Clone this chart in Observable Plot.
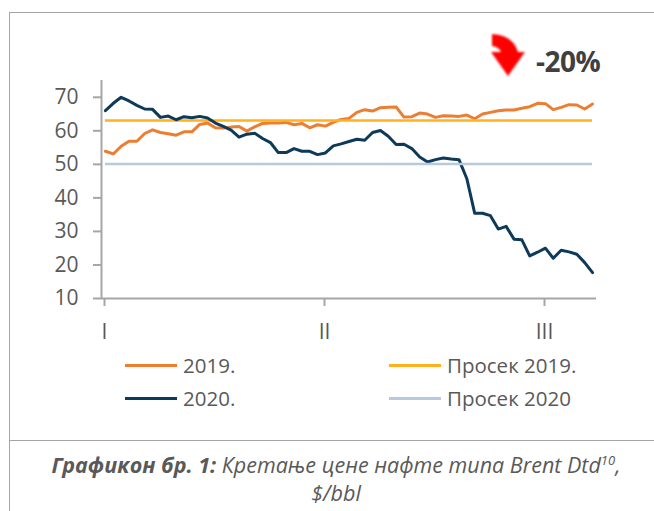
<!DOCTYPE html>
<html>
<head>
<meta charset="utf-8">
<script src="https://cdn.jsdelivr.net/npm/d3@7"></script>
<script src="https://cdn.jsdelivr.net/npm/@observablehq/plot@0.6"></script>
<style>
  html, body { margin: 0; padding: 0; background: #fff; }
  #wrap { position: relative; width: 654px; height: 511px; overflow: hidden; background: #fff; font-family: "Open Sans", sans-serif; }
  #chart { position: absolute; left: 0; top: 0; }
  .border-top { position: absolute; left: 9px; top: 12px; width: 660px; height: 0; border-top: 1px solid #a6a6a6; }
  .border-left { position: absolute; left: 9px; top: 12px; width: 0; height: 520px; border-left: 1px solid #a6a6a6; }
  .border-sep { position: absolute; left: 9px; top: 440px; width: 660px; height: 0; border-top: 1px solid #a6a6a6; }
  .leg { position: absolute; display: flex; align-items: center; font-size: 20.5px; color: #595959; white-space: nowrap; }
  .leg .sw { width: 52px; height: 3px; margin-right: 6px; }
  #badge { position: absolute; left: 536px; top: 42px; font-size: 28px; font-weight: 700; color: #404040; letter-spacing: -0.5px; }
  #caption { position: absolute; left: 9px; width: 654px; top: 451px; text-align: center; font-size: 21.5px; line-height: 28px; color: #595959; font-style: italic; }
  #caption sup { font-size: 13px; vertical-align: 8px; line-height: 0; }
</style>
</head>
<body>
<div id="wrap">
  <div class="border-top"></div>
  <div class="border-left"></div>
  <div class="border-sep"></div>
  <div id="chart"></div>
  <svg id="arrow" width="654" height="100" style="position:absolute;left:0;top:0">
    <defs><filter id="soft"><feGaussianBlur stdDeviation="0.8"/></filter></defs>
    <path d="M492,34 Q513,35 518,52 L525,52 L508,76 L491,52 L501,52 Q499,47 492,46 Z" fill="#ff0000" filter="url(#soft)"/>
  </svg>
  <div id="badge">-20%</div>
  <div id="legend"></div>
  <div id="caption"><b>Графикон бр. 1:</b> Кретање цене нафте типа Brent Dtd<sup>10</sup>,<br>$/bbl</div>
</div>
<script>
// Daily Brent Dtd prices, Q1 (trading days), $/bbl
const prices2019 = [53.9, 53.1, 55.4, 56.9, 56.9, 59.2, 60.3, 59.5, 59.1, 58.7,
  59.7, 59.7, 61.9, 62.3, 60.9, 60.8, 61.1, 61.3, 59.9, 61.2,
  62.2, 62.3, 62.3, 62.5, 61.8, 62.2, 60.9, 61.8, 61.4, 62.5,
  63.4, 63.7, 65.5, 66.3, 65.9, 66.9, 67.0, 67.1, 64.1, 64.2,
  65.3, 65.0, 64.0, 64.5, 64.4, 64.3, 64.7, 63.6, 65.0, 65.5,
  66.0, 66.2, 66.2, 66.7, 67.2, 68.2, 68.1, 66.3, 67.0, 67.8,
  67.7, 66.5, 68.0];
const prices2020 = [66.0, 68.2, 70.0, 68.9, 67.6, 66.5, 66.4, 64.0, 64.4, 63.3,
  64.2, 63.9, 64.3, 63.8, 62.3, 61.3, 60.2, 58.1, 59.0, 59.3,
  57.7, 56.5, 53.5, 53.5, 54.7, 53.9, 53.9, 52.9, 53.4, 55.5,
  56.1, 56.8, 57.5, 57.2, 59.5, 60.1, 58.4, 55.9, 56.0, 54.7,
  52.2, 50.7, 51.4, 51.9, 51.6, 51.4, 45.7, 35.4, 35.4, 34.7,
  30.7, 31.5, 27.7, 27.5, 22.7, 23.8, 25.0, 22.0, 24.4, 23.9,
  23.2, 20.7, 17.7];
const average2019 = 63.1;
const average2020 = 50.1;
const monthTicks = [0, 28, 56];
const monthLabels = ["I", "II", "III"];
const yTicks = [10, 20, 30, 40, 50, 60, 70];
const seriesNames = ["2019.", "Просек 2019.", "2020.", "Просек 2020"];
const seriesColors = ["#ED7D31", "#FFB21E", "#0E3A5A", "#B7C9DD"];

const n = prices2019.length;
const rows2019 = prices2019.map((v, i) => ({x: i + 0.5, y: v}));
const rows2020 = prices2020.map((v, i) => ({x: i + 0.5, y: v}));
const axisColor = "#A6A6A6";

const plot = Plot.plot({
  width: 654,
  height: 360,
  marginLeft: 101,
  marginRight: 58,
  marginTop: 80,
  marginBottom: 62,
  style: {fontFamily: "'Open Sans', sans-serif", fontSize: "21px", color: "#595959", background: "transparent", overflow: "visible"},
  x: {domain: [0, n], axis: null},
  y: {domain: [10, 75], axis: null},
  marks: [
    Plot.ruleY([10], {stroke: axisColor, strokeWidth: 2}),
    Plot.ruleX([0], {stroke: axisColor, strokeWidth: 2}),
    Plot.axisY(yTicks, {label: null, tickSize: 8, tickPadding: 15, stroke: axisColor, strokeWidth: 2, fill: "#595959", fontSize: 21}),
    Plot.axisX(monthTicks, {label: null, tickSize: 8, tickPadding: 18, stroke: axisColor, strokeWidth: 2, fill: "#595959", fontSize: 21, dx: 3,
      tickFormat: (d) => monthLabels[monthTicks.indexOf(d)]}),
    Plot.line(rows2019, {x: "x", y: "y", stroke: seriesColors[0], strokeWidth: 3}),
    Plot.ruleY([average2019], {x1: 0.5, x2: n - 0.5, stroke: seriesColors[1], strokeWidth: 2.5}),
    Plot.line(rows2020, {x: "x", y: "y", stroke: seriesColors[2], strokeWidth: 3}),
    Plot.ruleY([average2020], {x1: 0.5, x2: n - 0.5, stroke: seriesColors[3], strokeWidth: 2.5})
  ]
});
document.getElementById("chart").appendChild(plot);

// legend
const legendPos = [[125, 365], [389, 365], [125, 398], [389, 398]];
const legend = document.getElementById("legend");
seriesNames.forEach((name, i) => {
  const el = document.createElement("div");
  el.className = "leg";
  el.style.left = legendPos[i][0] + "px";
  el.style.top = (legendPos[i][1] - 14) + "px";
  el.style.height = "28px";
  el.innerHTML = `<span class="sw" style="background:${seriesColors[i]}"></span><span>${name}</span>`;
  legend.appendChild(el);
});
</script>
</body>
</html>
